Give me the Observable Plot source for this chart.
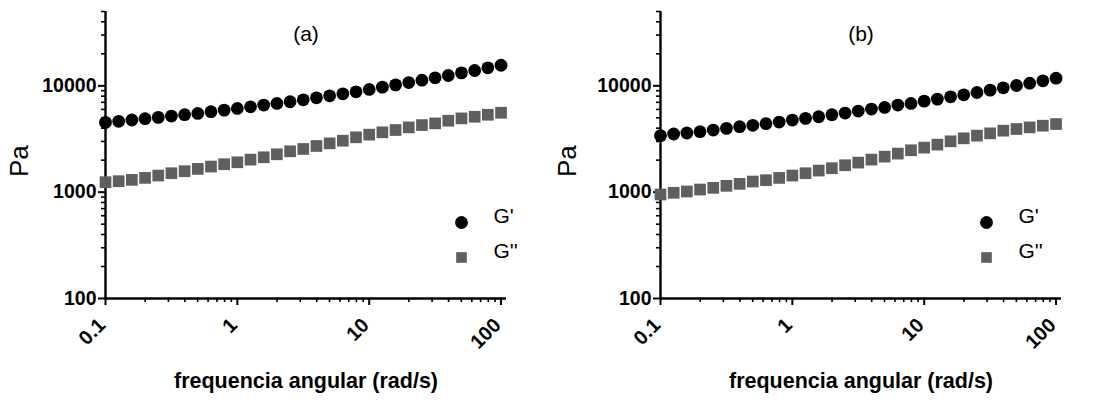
<!DOCTYPE html>
<html>
<head>
<meta charset="utf-8">
<script src="https://cdn.jsdelivr.net/npm/d3@7"></script>
<script src="https://cdn.jsdelivr.net/npm/@observablehq/plot@0.6"></script>
<style>
  html, body { margin: 0; padding: 0; background: #fff; }
  #wrap { display: flex; width: 1097px; height: 403px; overflow: hidden; }
  svg { font-family: "Liberation Sans", Arial, sans-serif; }
</style>
</head>
<body>
<div id="wrap"></div>
<script>
// Angular frequency (rad/s), 10 points per decade
const freq = [0.1, 0.1259, 0.1585, 0.1995, 0.2512, 0.3162, 0.3981, 0.5012, 0.631, 0.7943,
  1, 1.259, 1.585, 1.995, 2.512, 3.162, 3.981, 5.012, 6.31, 7.943,
  10, 12.59, 15.85, 19.95, 25.12, 31.62, 39.81, 50.12, 63.1, 79.43, 100];

// Panel (a)
const gPrimeA = [4530, 4640, 4770, 4910, 5050, 5200, 5350, 5500, 5710, 5910,
  6130, 6350, 6590, 6830, 7080, 7390, 7720, 8060, 8410, 8790,
  9250, 9720, 10210, 10740, 11300, 11890, 12500, 13240, 13930, 14760, 15620];
const gDoubleA = [1241, 1268, 1305, 1362, 1433, 1507, 1574, 1655, 1741, 1831,
  1910, 2023, 2128, 2271, 2423, 2548, 2718, 2877, 3048, 3280,
  3475, 3655, 3840, 4066, 4276, 4433, 4696, 4940, 5118, 5345, 5580];

// Panel (b)
const gPrimeB = [3400, 3522, 3600, 3705, 3840, 3981, 4128, 4250, 4406, 4564,
  4766, 4940, 5120, 5346, 5543, 5793, 6044, 6266, 6590, 6831,
  7180, 7499, 7885, 8235, 8659, 9107, 9577, 10072, 10593, 11140, 11800];
const gDoubleB = [951, 986, 1015, 1059, 1098, 1147, 1197, 1259, 1296, 1362,
  1433, 1507, 1596, 1679, 1791, 1897, 2023, 2158, 2305, 2477,
  2624, 2799, 3008, 3208, 3400, 3573, 3785, 3925, 4066, 4217, 4372];

const xMajor = [0.1, 1, 10, 100];
const xMinor = [0.2,0.3,0.4,0.5,0.6,0.7,0.8,0.9, 2,3,4,5,6,7,8,9, 20,30,40,50,60,70,80,90];
const yMajor = [100, 1000, 10000];
const yMinor = [200,300,400,500,600,700,800,900, 2000,3000,4000,5000,6000,7000,8000,9000, 20000,30000,40000,50000];
const seriesNames = ["G'", "G''"];
const panelTitles = ["(a)", "(b)"];
const xLabel = "frequencia angular (rad/s)";
const yLabel = "Pa";

const colorPrime = "#000000";
const colorDouble = "#5f5f5f";

function panel(title, gp, gd, width, ml, mr, legendDx) {
  const data = freq.map((f, i) => ({f, gp: gp[i], gd: gd[i]}));
  return Plot.plot({
    width, height: 403,
    marginLeft: ml, marginRight: mr, marginTop: 11, marginBottom: 105,
    style: {fontFamily: "'Liberation Sans', Arial, sans-serif", background: "#fff", overflow: "visible"},
    x: {type: "log", domain: [0.1, 110], axis: null},
    y: {type: "log", domain: [100, 50000], axis: null},
    marks: [
      // y axis ticks and labels
      Plot.axisY(yMinor, {anchor: "left", label: null, tickSize: 4, strokeWidth: 1.6, stroke: "#000", tickFormat: () => ""}),
      Plot.axisY(yMajor, {anchor: "left", label: null, tickSize: 7, strokeWidth: 2, stroke: "#000", tickPadding: 2,
        tickFormat: d => String(d), fontSize: 19.5, fontWeight: "bold", fill: "#000"}),
      // x axis ticks
      Plot.axisX(xMinor, {anchor: "bottom", label: null, tickSize: 4, strokeWidth: 1.6, stroke: "#000", tickFormat: () => ""}),
      Plot.axisX(xMajor, {anchor: "bottom", label: null, tickSize: 7, strokeWidth: 2, stroke: "#000", tickFormat: () => ""}),
      // axis lines
      Plot.ruleY([100], {stroke: "#000", strokeWidth: 2.4}),
      Plot.ruleX([0.1], {stroke: "#000", strokeWidth: 2.4}),
      // x tick labels rotated
      Plot.text(xMajor, {x: d => d, frameAnchor: "bottom", dy: 28, dx: 1, textAnchor: "end", rotate: -45,
        text: d => String(d), fontSize: 20, fontWeight: "bold", fill: "#000"}),
      // data
      Plot.dot(data, {x: "f", y: "gd", symbol: "square", r: 6.6, fill: colorDouble, stroke: "none"}),
      Plot.dot(data, {x: "f", y: "gp", symbol: "circle", r: 6.4, fill: colorPrime, stroke: "none"}),
      // panel title
      Plot.text([title], {frameAnchor: "top", dy: 15, text: d => d, fontSize: 21, fill: "#000"}),
      // legend
      Plot.dot([seriesNames[0]], {frameAnchor: "bottom-right", dx: legendDx, dy: -76, symbol: "circle", r: 6.4, fill: colorPrime}),
      Plot.dot([seriesNames[1]], {frameAnchor: "bottom-right", dx: legendDx, dy: -41, symbol: "square", r: 6.0, fill: colorDouble}),
      Plot.text([seriesNames[0]], {frameAnchor: "bottom-right", dx: legendDx + 32, dy: -76, textAnchor: "start", text: d => d, fontSize: 21, fill: "#000"}),
      Plot.text([seriesNames[1]], {frameAnchor: "bottom-right", dx: legendDx + 32, dy: -41, textAnchor: "start", text: d => d, fontSize: 21, fill: "#000"}),
      // axis titles
      Plot.text([yLabel], {frameAnchor: "left", dx: -ml + 19, dy: 22, rotate: -90, text: d => d, fontSize: 26, fill: "#000"}),
      Plot.text([xLabel], {frameAnchor: "bottom", dy: 89, text: d => d, fontSize: 21.5, fontWeight: "bold", fill: "#000"})
    ]
  });
}

const wrap = document.getElementById("wrap");
const A = panel(panelTitles[0], gPrimeA, gDoubleA, 548, 105, 42, -45);
const B = panel(panelTitles[1], gPrimeB, gDoubleB, 549, 112, 36, -75);
wrap.appendChild(A);
wrap.appendChild(B);
</script>
</body>
</html>
